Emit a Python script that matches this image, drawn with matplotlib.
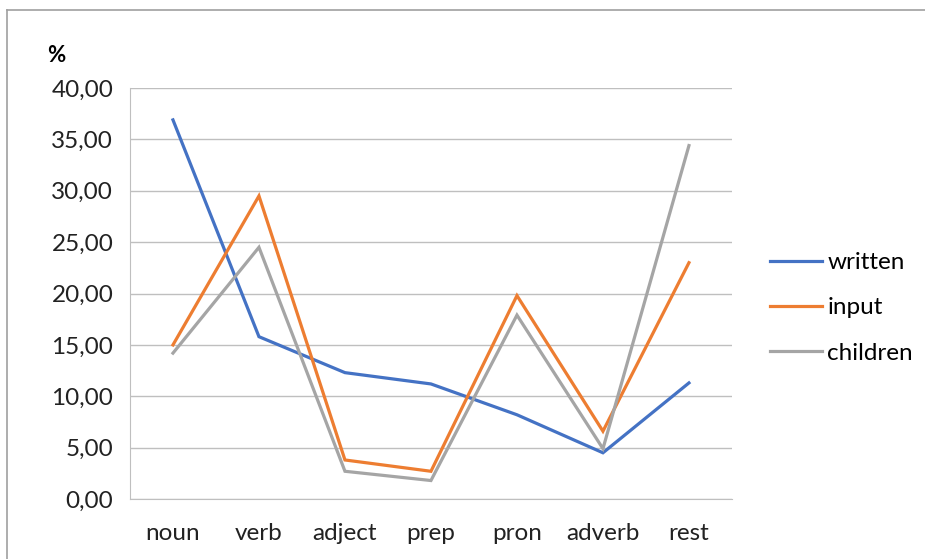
import matplotlib.pyplot as plt
from matplotlib.lines import Line2D

categories = ['noun', 'verb', 'adject', 'prep', 'pron', 'adverb', 'rest']
written = [36.9, 15.8, 12.3, 11.2, 8.2, 4.5, 11.3]
input_ = [15.0, 29.5, 3.8, 2.7, 19.8, 6.6, 23.0]
children = [14.2, 24.5, 2.7, 1.8, 17.9, 4.9, 34.4]
yticks = [0, 5, 10, 15, 20, 25, 30, 35, 40]

plt.rcParams['font.family'] = ['Lato', 'DejaVu Sans']

fig = plt.figure(figsize=(9.25, 5.59), dpi=100)
ax = fig.add_axes([0.1405, 0.1073, 0.6508, 0.7352])

x = range(len(categories))
ax.plot(x, written, color='#4472C4', lw=2.3, label='written', solid_joinstyle='miter')
ax.plot(x, input_, color='#ED7D31', lw=2.3, label='input', solid_joinstyle='miter')
ax.plot(x, children, color='#A5A5A5', lw=2.3, label='children', solid_joinstyle='miter')

ax.set_xlim(-0.5, 6.5)
ax.set_ylim(0, 40)
ax.set_yticks(yticks)
ax.set_yticklabels([f'{v:.2f}'.replace('.', ',') for v in yticks], fontsize=17.5, color='#222222')
ax.set_xticks(list(x))
ax.set_xticklabels(categories, fontsize=17.5, color='#222222')
ax.tick_params(length=0, pad=12)
ax.tick_params(axis='x', pad=17)
ax.grid(axis='y', color='#BFBFBF', lw=1)
ax.set_axisbelow(True)
for s in ['top', 'right']:
    ax.spines[s].set_visible(False)
ax.spines['left'].set_color('#BFBFBF')
ax.spines['bottom'].set_color('#BFBFBF')

fig.text(47 / 925, 1 - 56 / 559, '%', fontsize=16, fontweight='bold', ha='left', va='center')

leg = ax.legend(loc='center left', bbox_to_anchor=(1.027, 0.465), frameon=False,
                fontsize=17.5, handlelength=2.15, handletextpad=0.2, labelspacing=1.0)

# outer chart border (only left and top edges visible)
fig.add_artist(Line2D([7 / 925, 7 / 925], [0, 1 - 10 / 559], transform=fig.transFigure,
                      color='#A0A0A0', lw=1.2))
fig.add_artist(Line2D([7 / 925, 1], [1 - 10 / 559, 1 - 10 / 559], transform=fig.transFigure,
                      color='#A0A0A0', lw=1.2))

fig.savefig('out.png', dpi=100)
